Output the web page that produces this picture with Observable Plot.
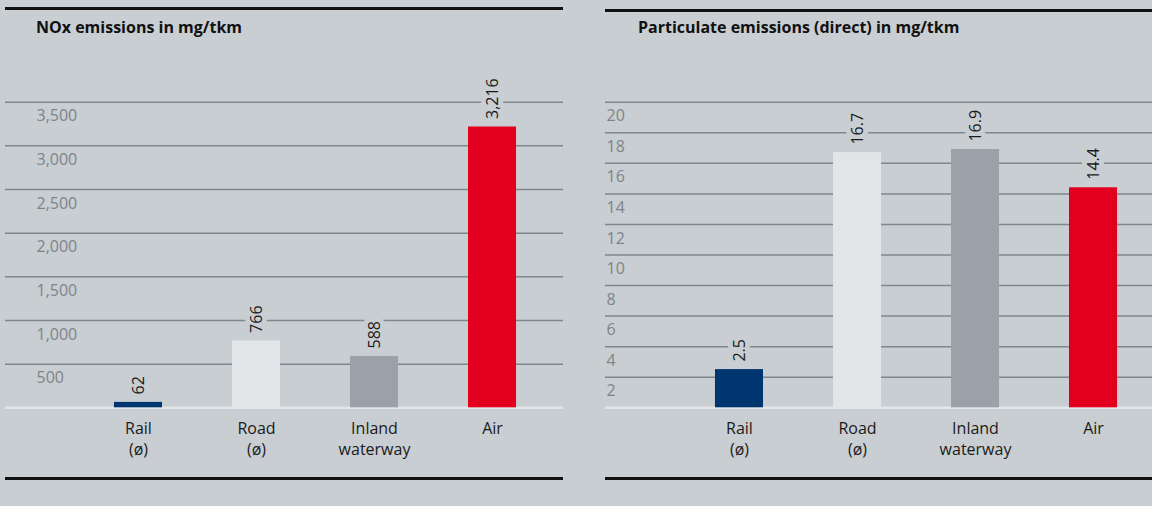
<!DOCTYPE html>
<html>
<head>
<meta charset="utf-8">
<script src="https://cdn.jsdelivr.net/npm/d3@7"></script>
<script src="https://cdn.jsdelivr.net/npm/@observablehq/plot@0.6"></script>
<style>
  html, body { margin: 0; padding: 0; }
  body { width: 1152px; height: 506px; overflow: hidden; background: #c9ced2; position: relative;
         font-family: "Open Sans", "Noto Sans", sans-serif; }
  .panel { position: absolute; top: 0; height: 506px; }
  .panel svg { position: absolute; left: 0; top: 0; }
  .line { position: absolute; left: 0; right: 0; height: 3px; background: #111; }
  .title { position: absolute; top: 19px; font-weight: 700; font-size: 16px; line-height: 16px; color: #111; white-space: nowrap; }
</style>
</head>
<body>
<div id="left" class="panel" style="left:5px; width:558px;">
  <div class="line" style="top:7px"></div>
  <div class="title" style="left:31px">NOx emissions in mg/tkm</div>
  <div class="line" style="top:477px"></div>
</div>
<div id="right" class="panel" style="left:605px; width:547px;">
  <div class="line" style="top:9px"></div>
  <div class="title" style="left:33px">Particulate emissions (direct) in mg/tkm</div>
  <div class="line" style="top:477px"></div>
</div>
<script>
// ---- data ----
const categories = ["Rail", "Road", "Inland waterway", "Air"];
const categoryLabels = ["Rail\n(ø)", "Road\n(ø)", "Inland\nwaterway", "Air"];
const noxValues = [62, 766, 588, 3216];
const pmValues = [2.5, 16.7, 16.9, 14.4];
const noxTicks = [500, 1000, 1500, 2000, 2500, 3000, 3500];
const pmTicks = [2, 4, 6, 8, 10, 12, 14, 16, 18, 20];

// ---- styles ----
const bg = "#c9ced2";
const barColors = ["#00366f", "#e1e5e8", "#9aa1a8", "#e3001e"];
const gridColor = "#7f868c";
const fmt = d3.format(",");

function chart({values, ticks, yMax, width, xRange, tickDx}) {
  const rows = categories.map((c, i) => ({mode: c, value: values[i], cat: categoryLabels[i], label: fmt(values[i])}));
  return Plot.plot({
    width, height: 506,
    marginTop: 101.7, marginBottom: 98.7, marginLeft: 0, marginRight: 0,
    style: {background: "transparent", overflow: "visible", fontFamily: "'Open Sans', 'Noto Sans', sans-serif"},
    x: {domain: categories, range: xRange, paddingInner: 0.593, paddingOuter: 0.398, align: 0.5, round: false, axis: null},
    y: {domain: [0, yMax], axis: null},
    color: {domain: categories, range: barColors},
    marks: [
      Plot.ruleY(ticks, {stroke: gridColor, strokeWidth: 1.5}),
      Plot.ruleY([0], {stroke: "#e3e6e9", strokeWidth: 2.5}),
      Plot.barY(rows, {x: "mode", y: "value", fill: "mode"}),
      Plot.text(ticks, {y: d => d, text: d => fmt(d), frameAnchor: "left", textAnchor: "start", lineAnchor: "middle",
                        dx: tickDx, dy: 14, fill: "#7d848a", fontSize: 16}),
      Plot.text(rows, {x: "mode", y: "value", text: "label", rotate: -90, textAnchor: "start", lineAnchor: "middle",
                       dy: -8, fill: "#1a1a1a", stroke: bg, strokeWidth: 10, paintOrder: "stroke", fontSize: 16}),
      Plot.text(rows, {x: "mode", text: "cat", frameAnchor: "bottom", lineAnchor: "top", lineHeight: 1.33,
                       dy: 11, fill: "#1a1a1a", fontSize: 16})
    ]
  });
}

document.getElementById("left").appendChild(chart({values: noxValues, ticks: noxTicks, yMax: 3500, width: 558, xRange: [62, 558], tickDx: 31}));
document.getElementById("right").appendChild(chart({values: pmValues, ticks: pmTicks, yMax: 20, width: 547, xRange: [63, 559], tickDx: 1}));
</script>
</body>
</html>
